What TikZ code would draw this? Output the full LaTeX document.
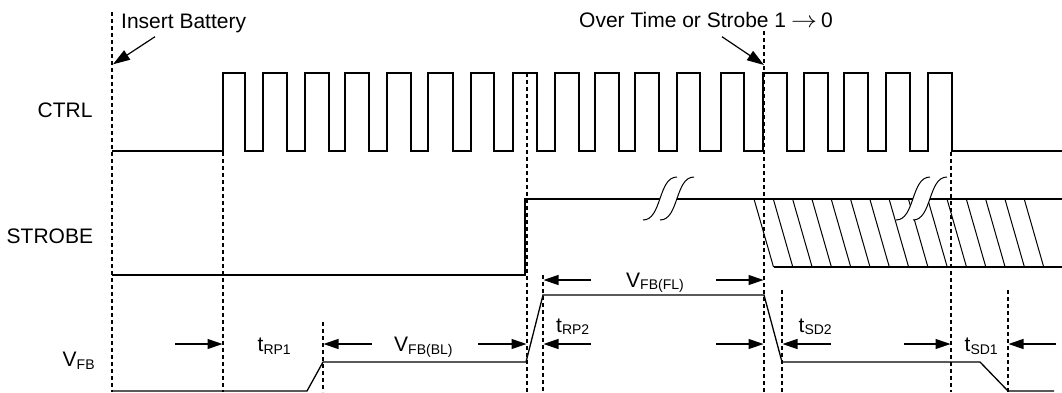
\documentclass[tikz,border=0pt]{standalone}
\usepackage{fontspec}
\setmainfont{Liberation Sans}
\usetikzlibrary{arrows.meta}
\newcommand{\sbs}[1]{\raisebox{-2.5pt}{\fontsize{14pt}{14pt}\selectfont #1}}
\newcommand{\brkmark}[1]{%
  \fill[white] (#1,220) .. controls (#1+19,220) and (#1+15,177) .. (#1+34,177)
     -- (#1+51,177) .. controls (#1+32,177) and (#1+36,220) .. (#1+17,220) -- cycle;
  \draw[brk] (#1,220) .. controls (#1+19,220) and (#1+15,177) .. (#1+34,177);
  \draw[brk] (#1+17,220) .. controls (#1+36,220) and (#1+32,177) .. (#1+51,177);
}
\begin{document}
\begin{tikzpicture}[x=1pt,y=-1pt,
  wave/.style={line width=1.3pt, line join=miter},
  hatch/.style={line width=1pt},
  brk/.style={line width=1pt},
  guide/.style={line width=1.1pt, dash pattern=on 4pt off 3pt},
  dim/.style={line width=1.2pt, -{Triangle[length=15pt,width=10pt]}},
  call/.style={line width=1.2pt, -{Triangle[length=17pt,width=11pt]}},
  lbl/.style={inner sep=0pt, anchor=base west, font=\fontsize{21pt}{24pt}\selectfont}]
\useasboundingbox (0,0) rectangle (1062,392);

% guides
\draw[guide] (112,12) -- (112,392);
\draw[guide] (223,152) -- (223,392);
\draw[guide] (323,322) -- (323,392);
\draw[guide] (527,73) -- (527,392);
\draw[guide] (543,275) -- (543,392);
\draw[guide] (764,31) -- (764,392);
\draw[guide] (782,290) -- (782,392);
\draw[guide] (951,152) -- (951,392);
\draw[guide] (1008,290) -- (1008,392);

% CTRL
\draw[wave] (112,151)
  \foreach \r/\f in {223/245,263/287,305/329,345/369,387/411,428/453,471/494,513/537,555/579,595/619,635/659,677/700,721/744,763/787,804/828,844/868,886/910,928/952}
  { -- (\r,151) -- (\r,73) -- (\f,73) -- (\f,151) } -- (1062,151);

% STROBE
\draw[wave] (112,275) -- (525,275) -- (525,199) -- (1062,199);
\draw[wave] (773.5,267) -- (1062,267);
\foreach \k in {0,...,14} \draw[hatch] ({754+19.3*\k},199) -- ({773.5+19.3*\k},267);
\brkmark{643}
\brkmark{896}

% VFB
\draw[wave] (112,391) -- (307,391) -- (323,362) -- (526,362) -- (543,295)
  -- (764,295) -- (782,362) -- (980,362) -- (1008,391) -- (1054,391);

% labels
\node[lbl] (ib) at (121,28.3) {Insert Battery};
\node[lbl] (ot) at (579,27.3) {Over Time or Strobe 1\hspace{5pt}\scalebox{1.25}[1.1]{$\rightarrow$}\hspace{4pt}0};
\node[lbl] (ctrl) at (37.5,117.3) {CTRL};
\node[lbl] (strobe) at (6.5,243.3) {STROBE};
\node[lbl] (vfb) at (62.5,366.7) {V\sbs{FB}};
\node[lbl] (trp1) at (257.5,351.7) {t\sbs{RP1}};
\node[lbl] (vbl) at (394,351.7) {V\sbs{FB(BL)}};
\node[lbl] (trp2) at (556,332) {t\sbs{RP2}};
\node[lbl] (vfl) at (626,287.3) {V\sbs{FB(FL)}};
\node[lbl] (tsd2) at (798.5,332) {t\sbs{SD2}};
\node[lbl] (tsd1) at (964.5,351.7) {t\sbs{SD1}};

% callout arrows
\coordinate (ibs) at (155,36.7); \coordinate (ibt) at (113,64.3);
\coordinate (ots) at (722,36.7); \coordinate (ott) at (764,65);
\draw[call] (ibs) -- (ibt);
\draw[call] (ots) -- (ott);

% dimension arrows
\coordinate (a1s) at (175,344); \coordinate (a1t) at (222.5,344);
\coordinate (a2s) at (372,344); \coordinate (a2t) at (323.5,344);
\coordinate (a3s) at (478,344); \coordinate (a3t) at (526.5,344);
\coordinate (a4s) at (591,344); \coordinate (a4t) at (543.5,344);
\coordinate (a5s) at (591,280); \coordinate (a5t) at (543.5,280);
\coordinate (a6s) at (716,280); \coordinate (a6t) at (763.5,280);
\coordinate (a7s) at (716,344); \coordinate (a7t) at (763.5,344);
\coordinate (a8s) at (831,344); \coordinate (a8t) at (782.5,344);
\coordinate (a9s) at (904,344); \coordinate (a9t) at (950.5,344);
\coordinate (a10s) at (1056,344); \coordinate (a10t) at (1008.5,344);
\foreach \i in {1,...,10} \draw[dim] (a\i s) -- (a\i t);
\end{tikzpicture}
\end{document}
